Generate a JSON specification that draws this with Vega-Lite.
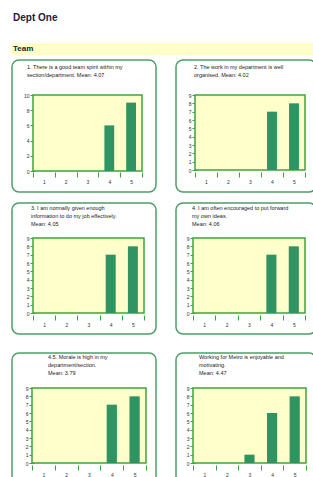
{
  "$schema": "https://vega.github.io/schema/vega-lite/v6.json",
  "padding": {"left": 11, "top": 13, "right": 0, "bottom": 0},
  "background": "white",
  "title": {"text": "Dept One", "anchor": "start", "baseline": "bottom", "offset": 10, "fontSize": 10, "font": "Liberation Sans", "fontWeight": "bold", "color": "#1c1c3c", "dx": 1},
  "config": {
    "view": {"stroke": null},
    "axis": {"labelFont": "Liberation Sans", "labelFontSize": 5, "labelColor": "#333333", "tickColor": "#3aa63a", "tickWidth": 1, "domainColor": "#3aa63a", "grid": false, "title": null, "labelOverlap": false, "labelBound": false, "labelFlush": false, "domain": false, "tickSize": 5},
    "axisX": {"labelAngle": 0, "tickBand": "extent", "labelPadding": 2},
    "axisY": {"labelPadding": 1},
    "title": {"font": "Liberation Sans", "fontSize": 5.5, "fontWeight": "normal", "color": "#1a1a1a", "anchor": "start", "baseline": "top", "lineHeight": 8, "frame": "group"},
    "concat": {"spacing": 18}
  },
  "vconcat": [
    {
      "spacing": 9,
      "vconcat": [
        {
          "spacing": 4,
          "vconcat": [
            {
              "width": 302, "height": 12,
              "view": {"fill": "#ffffc8", "stroke": null},
              "data": {"values": [{"t": "Team"}]},
              "mark": {"type": "text", "align": "left", "baseline": "middle", "font": "Liberation Sans", "fontWeight": "bold", "fontSize": 8, "color": "#1c1c3c"},
              "encoding": {"text": {"field": "t"}, "x": {"value": 1}}
            },
            {
              "hconcat": [
                {
                  "width": 144, "height": 132,
                  "view": {"stroke": "#4e9e68", "strokeWidth": 1.5, "cornerRadius": 7, "fill": "white"},
                  "title": {"text": ["1. There is a good team spirit within my", "section/department. Mean: 4.07"], "offset": -18, "dx": 15},
                  "layer": [
                    {"data": {"values": [{}]}, "mark": {"type": "rect", "fill": "#ffffcc", "stroke": "#3aa63a", "strokeWidth": 1.5},
                     "encoding": {
                       "x": {"datum": "1", "type": "ordinal", "bandPosition": 0, "scale": {"domain": ["1", "2", "3", "4", "5"], "range": [21, 130], "paddingInner": 0, "paddingOuter": 0}, "axis": {"orient": "bottom", "offset": -20}},
                       "x2": {"datum": "5", "bandPosition": 1},
                       "y": {"datum": 0, "type": "quantitative", "scale": {"domain": [0, 10], "range": [111, 35], "nice": false, "zero": true}, "axis": {"orient": "left", "offset": -23, "values": [0, 2, 4, 6, 8, 10]}},
                       "y2": {"datum": 10}}},
                    {"data": {"values": [{"score": "1", "count": 0}, {"score": "2", "count": 0}, {"score": "3", "count": 0}, {"score": "4", "count": 6}, {"score": "5", "count": 9}]},
                     "mark": {"type": "bar", "width": {"band": 0.45}, "color": "#2f9462"},
                     "encoding": {
                       "x": {"field": "score", "type": "ordinal", "scale": {"domain": ["1", "2", "3", "4", "5"], "range": [21, 130], "paddingInner": 0, "paddingOuter": 0}, "axis": {"orient": "bottom", "offset": -20}},
                       "y": {"field": "count", "type": "quantitative", "scale": {"domain": [0, 10], "range": [111, 35], "nice": false, "zero": true}, "axis": {"orient": "left", "offset": -23, "values": [0, 2, 4, 6, 8, 10]}}
                     }}
                  ]
                },
                {
                  "width": 140, "height": 132,
                  "view": {"stroke": "#4e9e68", "strokeWidth": 1.5, "cornerRadius": 7, "fill": "white"},
                  "title": {"text": ["2. The work in my department is well", "organised. Mean: 4.02"], "offset": -18, "dx": 18},
                  "layer": [
                    {"data": {"values": [{}]}, "mark": {"type": "rect", "fill": "#ffffcc", "stroke": "#3aa63a", "strokeWidth": 1.5},
                     "encoding": {
                       "x": {"datum": "1", "type": "ordinal", "bandPosition": 0, "scale": {"domain": ["1", "2", "3", "4", "5"], "range": [19, 129], "paddingInner": 0, "paddingOuter": 0}, "axis": {"orient": "bottom", "offset": -20}},
                       "x2": {"datum": "5", "bandPosition": 1},
                       "y": {"datum": 0, "type": "quantitative", "scale": {"domain": [0, 9], "range": [110, 35], "nice": false, "zero": true}, "axis": {"orient": "left", "offset": -21, "values": [0, 1, 2, 3, 4, 5, 6, 7, 8, 9]}},
                       "y2": {"datum": 9}}},
                    {"data": {"values": [{"score": "1", "count": 0}, {"score": "2", "count": 0}, {"score": "3", "count": 0}, {"score": "4", "count": 7}, {"score": "5", "count": 8}]},
                     "mark": {"type": "bar", "width": {"band": 0.45}, "color": "#2f9462"},
                     "encoding": {
                       "x": {"field": "score", "type": "ordinal", "scale": {"domain": ["1", "2", "3", "4", "5"], "range": [19, 129], "paddingInner": 0, "paddingOuter": 0}, "axis": {"orient": "bottom", "offset": -20}},
                       "y": {"field": "count", "type": "quantitative", "scale": {"domain": [0, 9], "range": [110, 35], "nice": false, "zero": true}, "axis": {"orient": "left", "offset": -21, "values": [0, 1, 2, 3, 4, 5, 6, 7, 8, 9]}}
                     }}
                  ]
                }
              ]
            }
          ]
        },
        {
          "hconcat": [
            {
              "width": 144, "height": 131,
              "view": {"stroke": "#4e9e68", "strokeWidth": 1.5, "cornerRadius": 7, "fill": "white"},
              "title": {"text": ["3. I am normally given enough", "information to do my job effectively.", "Mean: 4.05"], "offset": -24, "dx": 19},
              "layer": [
                {"data": {"values": [{}]}, "mark": {"type": "rect", "fill": "#ffffcc", "stroke": "#3aa63a", "strokeWidth": 1.5},
                 "encoding": {
                   "x": {"datum": "1", "type": "ordinal", "bandPosition": 0, "scale": {"domain": ["1", "2", "3", "4", "5"], "range": [21, 132], "paddingInner": 0, "paddingOuter": 0}, "axis": {"orient": "bottom", "offset": -19}},
                   "x2": {"datum": "5", "bandPosition": 1},
                   "y": {"datum": 0, "type": "quantitative", "scale": {"domain": [0, 9], "range": [110, 35], "nice": false, "zero": true}, "axis": {"orient": "left", "offset": -23, "values": [0, 1, 2, 3, 4, 5, 6, 7, 8, 9]}},
                   "y2": {"datum": 9}}},
                {"data": {"values": [{"score": "1", "count": 0}, {"score": "2", "count": 0}, {"score": "3", "count": 0}, {"score": "4", "count": 7}, {"score": "5", "count": 8}]},
                 "mark": {"type": "bar", "width": {"band": 0.45}, "color": "#2f9462"},
                 "encoding": {
                   "x": {"field": "score", "type": "ordinal", "scale": {"domain": ["1", "2", "3", "4", "5"], "range": [21, 132], "paddingInner": 0, "paddingOuter": 0}, "axis": {"orient": "bottom", "offset": -19}},
                   "y": {"field": "count", "type": "quantitative", "scale": {"domain": [0, 9], "range": [110, 35], "nice": false, "zero": true}, "axis": {"orient": "left", "offset": -23, "values": [0, 1, 2, 3, 4, 5, 6, 7, 8, 9]}}
                 }}
              ]
            },
            {
              "width": 140, "height": 131,
              "view": {"stroke": "#4e9e68", "strokeWidth": 1.5, "cornerRadius": 7, "fill": "white"},
              "title": {"text": ["4. I am often encouraged to put forward", "my own ideas.", "Mean: 4.06"], "offset": -24, "dx": 16},
              "layer": [
                {"data": {"values": [{}]}, "mark": {"type": "rect", "fill": "#ffffcc", "stroke": "#3aa63a", "strokeWidth": 1.5},
                 "encoding": {
                   "x": {"datum": "1", "type": "ordinal", "bandPosition": 0, "scale": {"domain": ["1", "2", "3", "4", "5"], "range": [17, 129], "paddingInner": 0, "paddingOuter": 0}, "axis": {"orient": "bottom", "offset": -19}},
                   "x2": {"datum": "5", "bandPosition": 1},
                   "y": {"datum": 0, "type": "quantitative", "scale": {"domain": [0, 9], "range": [110, 35], "nice": false, "zero": true}, "axis": {"orient": "left", "offset": -19, "values": [0, 1, 2, 3, 4, 5, 6, 7, 8, 9]}},
                   "y2": {"datum": 9}}},
                {"data": {"values": [{"score": "1", "count": 0}, {"score": "2", "count": 0}, {"score": "3", "count": 0}, {"score": "4", "count": 7}, {"score": "5", "count": 8}]},
                 "mark": {"type": "bar", "width": {"band": 0.45}, "color": "#2f9462"},
                 "encoding": {
                   "x": {"field": "score", "type": "ordinal", "scale": {"domain": ["1", "2", "3", "4", "5"], "range": [17, 129], "paddingInner": 0, "paddingOuter": 0}, "axis": {"orient": "bottom", "offset": -19}},
                   "y": {"field": "count", "type": "quantitative", "scale": {"domain": [0, 9], "range": [110, 35], "nice": false, "zero": true}, "axis": {"orient": "left", "offset": -19, "values": [0, 1, 2, 3, 4, 5, 6, 7, 8, 9]}}
                 }}
              ]
            }
          ]
        }
      ]
    },
    {
      "hconcat": [
        {
          "width": 144, "height": 131,
          "view": {"stroke": "#4e9e68", "strokeWidth": 1.5, "cornerRadius": 7, "fill": "white"},
          "title": {"text": ["4.5. Morale is high in my", "department/section.", "Mean: 3.79"], "offset": -23, "dx": 36},
          "layer": [
            {"data": {"values": [{}]}, "mark": {"type": "rect", "fill": "#ffffcc", "stroke": "#3aa63a", "strokeWidth": 1.5},
             "encoding": {
               "x": {"datum": "1", "type": "ordinal", "bandPosition": 0, "scale": {"domain": ["1", "2", "3", "4", "5"], "range": [20, 134], "paddingInner": 0, "paddingOuter": 0}, "axis": {"orient": "bottom", "offset": -19}},
               "x2": {"datum": "5", "bandPosition": 1},
               "y": {"datum": 0, "type": "quantitative", "scale": {"domain": [0, 9], "range": [110, 35], "nice": false, "zero": true}, "axis": {"orient": "left", "offset": -22, "values": [0, 1, 2, 3, 4, 5, 6, 7, 8, 9]}},
               "y2": {"datum": 9}}},
            {"data": {"values": [{"score": "1", "count": 0}, {"score": "2", "count": 0}, {"score": "3", "count": 0}, {"score": "4", "count": 7}, {"score": "5", "count": 8}]},
             "mark": {"type": "bar", "width": {"band": 0.45}, "color": "#2f9462"},
             "encoding": {
               "x": {"field": "score", "type": "ordinal", "scale": {"domain": ["1", "2", "3", "4", "5"], "range": [20, 134], "paddingInner": 0, "paddingOuter": 0}, "axis": {"orient": "bottom", "offset": -19}},
               "y": {"field": "count", "type": "quantitative", "scale": {"domain": [0, 9], "range": [110, 35], "nice": false, "zero": true}, "axis": {"orient": "left", "offset": -22, "values": [0, 1, 2, 3, 4, 5, 6, 7, 8, 9]}}
             }}
          ]
        },
        {
          "width": 140, "height": 131,
          "view": {"stroke": "#4e9e68", "strokeWidth": 1.5, "cornerRadius": 7, "fill": "white"},
          "title": {"text": ["Working for Metro is enjoyable and", "motivating.", "Mean: 4.47"], "offset": -23, "dx": 23},
          "layer": [
            {"data": {"values": [{}]}, "mark": {"type": "rect", "fill": "#ffffcc", "stroke": "#3aa63a", "strokeWidth": 1.5},
             "encoding": {
               "x": {"datum": "1", "type": "ordinal", "bandPosition": 0, "scale": {"domain": ["1", "2", "3", "4", "5"], "range": [17, 130], "paddingInner": 0, "paddingOuter": 0}, "axis": {"orient": "bottom", "offset": -19}},
               "x2": {"datum": "5", "bandPosition": 1},
               "y": {"datum": 0, "type": "quantitative", "scale": {"domain": [0, 9], "range": [110, 35], "nice": false, "zero": true}, "axis": {"orient": "left", "offset": -19, "values": [0, 1, 2, 3, 4, 5, 6, 7, 8, 9]}},
               "y2": {"datum": 9}}},
            {"data": {"values": [{"score": "1", "count": 0}, {"score": "2", "count": 0}, {"score": "3", "count": 1}, {"score": "4", "count": 6}, {"score": "5", "count": 8}]},
             "mark": {"type": "bar", "width": {"band": 0.45}, "color": "#2f9462"},
             "encoding": {
               "x": {"field": "score", "type": "ordinal", "scale": {"domain": ["1", "2", "3", "4", "5"], "range": [17, 130], "paddingInner": 0, "paddingOuter": 0}, "axis": {"orient": "bottom", "offset": -19}},
               "y": {"field": "count", "type": "quantitative", "scale": {"domain": [0, 9], "range": [110, 35], "nice": false, "zero": true}, "axis": {"orient": "left", "offset": -19, "values": [0, 1, 2, 3, 4, 5, 6, 7, 8, 9]}}
             }}
          ]
        }
      ]
    }
  ],
  "spacing": 17
}
